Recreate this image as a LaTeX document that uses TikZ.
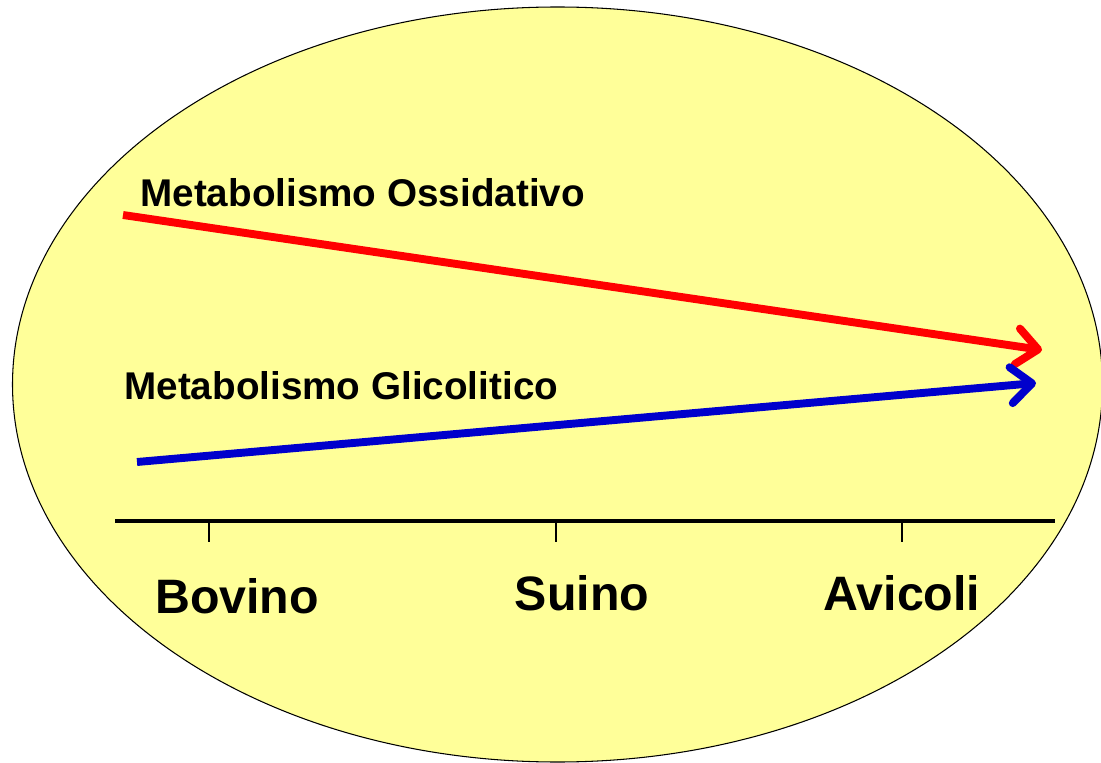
\documentclass[tikz,border=0pt]{standalone}
\usepackage{fontspec}
\setmainfont{Liberation Sans}
\usetikzlibrary{arrows.meta}

\definecolor{pale}{RGB}{255,255,153}
\definecolor{glyblue}{RGB}{0,0,204}

\tikzset{
  trend/.style={line width=4.5pt, -{Straight Barb[length=0.42cm, width=0.72cm, round]}},
  lab/.style={anchor=base west, inner sep=0pt, font=\fontsize{22}{26}\selectfont\bfseries},
  species/.style={anchor=base, inner sep=0pt, font=\fontsize{27.5}{32}\selectfont\bfseries}
}

\begin{document}
\begin{tikzpicture}[x=0.02cm, y=-0.02cm]
\useasboundingbox (0,0) rectangle (1101,763);

\coordinate (C) at (557.5,384.5);
\coordinate (Ra) at (123,215);
\coordinate (Rb) at (1042,350);
\coordinate (Ba) at (137,462);
\coordinate (Bb) at (1036,383);
\coordinate (L) at (115,521);
\coordinate (R) at (1055,521);

\fill[pale] (C) ellipse [x radius=545, y radius=377.5];
\draw[line width=0.6pt] (C) ellipse [x radius=545, y radius=377.5];

\draw[trend, red] (Ra) -- (Rb);
\draw[trend, glyblue] (Ba) -- (Bb);

\node[lab] (oss) at (140,207) {Metabolismo Ossidativo};
\node[lab] (gli) at (124,399) {Metabolismo Glicolitico};

\draw[line width=2.8pt] (L) -- (R);
\foreach \x in {209, 556, 902}
  \draw[line width=1.2pt] (\x,521) -- (\x,542);

\node[species] (bov) at (237,613) {Bovino};
\node[species] (sui) at (582,610) {Suino};
\node[species] (avi) at (902,610) {Avicoli};

\end{tikzpicture}
\end{document}
